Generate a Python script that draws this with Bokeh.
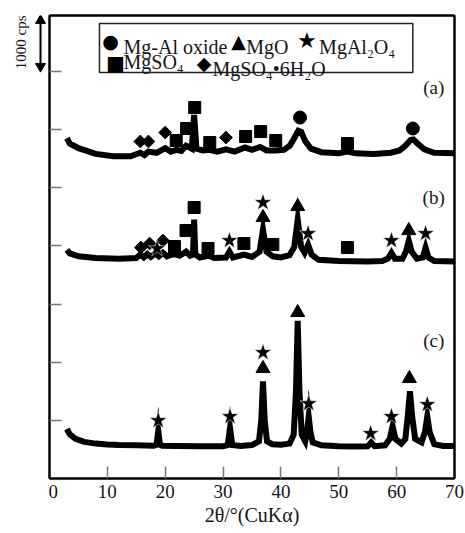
import math
from bokeh.plotting import figure
from bokeh.layouts import row
from bokeh.models import Range1d, FixedTicker, Label, LinearAxis
from bokeh.embed import file_html
from bokeh.resources import INLINE

# ---------------- data (2theta in degrees, intensity in cps, traces offset) ----------------
a_x = [3.0, 3.5, 5, 8, 11, 14, 15.7, 16.4, 17.1, 18.5, 20.0, 21.0, 21.9, 22.8, 23.6, 24.6, 25.0, 25.4,
       26.5, 27.6, 29, 30.5, 32, 33.8, 35, 36.4, 37.5, 39.0, 40.5, 41.5, 42.3, 43.0, 43.5, 44.2, 45.2,
       47, 50, 51.4, 53, 56, 59, 60.5, 61.5, 62.4, 62.9, 63.6, 64.8, 66.5, 70]
a_y = [5850, 5760, 5680, 5580, 5540, 5540, 5600, 5560, 5620, 5600, 5680, 5620, 5650, 5630, 5720, 5670, 6250, 5670,
       5640, 5650, 5620, 5660, 5620, 5690, 5650, 5700, 5640, 5640, 5650, 5720, 5850, 5980, 5960, 5800, 5670,
       5610, 5590, 5620, 5590, 5580, 5600, 5640, 5720, 5820, 5830, 5760, 5660, 5600, 5590]

b_x = [3.0, 3.5, 5, 8, 12, 15, 15.7, 16.3, 16.9, 17.5, 18.3, 18.9, 19.6, 20.3, 21.5, 22.5, 23.6, 24.3, 24.8,
       25.0, 25.2, 26, 27.4, 28.5, 30.5, 31.1, 31.7, 33.6, 35, 36.3, 36.9, 37.5, 38.6, 40, 41.5, 42.3, 42.9,
       43.5, 44.1, 44.7, 45.3, 46.5, 50, 55, 57.5, 58.5, 59.1, 59.7, 61, 61.6, 62.1, 62.6, 63.5, 64.5, 65.0,
       65.5, 66.5, 70]
b_y = [3930, 3870, 3820, 3790, 3780, 3790, 3850, 3800, 3860, 3810, 3870, 3820, 3880, 3820, 3860, 3830, 3900, 3830, 3850,
       4450, 3850, 3800, 3830, 3790, 3800, 3900, 3800, 3850, 3810, 3900, 4280, 3900, 3820, 3800, 3840, 3980, 4450,
       3980, 3880, 4020, 3850, 3760, 3740, 3730, 3740, 3780, 3880, 3780, 3780, 3900, 4090, 3900, 3780, 3800, 3970,
       3800, 3740, 3730]

c_x = [3.0, 3.5, 4.5, 6, 8, 10, 12, 15, 18, 18.5, 18.8, 19.1, 19.5, 22, 26, 30, 30.8, 31.2, 31.6, 33, 35,
       36.2, 36.6, 36.9, 37.2, 37.6, 38.5, 40, 41.5, 42.2, 42.6, 42.9, 43.2, 43.6, 44.2, 44.5, 44.8, 45.1,
       45.5, 47, 50, 53, 55, 55.6, 56.2, 58, 58.8, 59.3, 59.8, 60.8, 61.5, 61.9, 62.3, 62.7, 63.2, 64.3,
       64.9, 65.3, 65.7, 66.5, 68, 70]
c_y = [850, 760, 680, 630, 600, 585, 575, 570, 565, 580, 820, 580, 565, 560, 555, 555, 575, 870, 575, 560, 575,
       640, 1000, 1670, 1000, 640, 590, 580, 600, 750, 1500, 2710, 1500, 750, 640, 800, 1070, 800,
       620, 570, 555, 550, 555, 620, 555, 570, 680, 900, 680, 600, 680, 1050, 1500, 1050, 680, 620,
       800, 1070, 800, 590, 560, 560]

# phase markers
circle_x = [43.3, 62.8]
circle_y = [6206, 6017]
square_x = [21.9, 23.7, 25.1, 27.7, 33.9, 36.5, 39.1, 51.5,
            21.6, 23.6, 25.0, 27.4, 33.6, 38.6, 51.5]
square_y = [5811, 6017, 6378, 5776, 5879, 5965, 5811, 5759,
            3988, 4263, 4659, 3954, 4040, 4023, 3971]
diamond_x = [15.7, 17.1, 20.0, 30.5, 15.8, 17.3, 19.6]
diamond_y = [5794, 5794, 5948, 5862, 3971, 4040, 4091]
star_x = [18.6, 31.1, 36.9, 44.7, 59.1, 65.0,
          18.8, 31.2, 36.9, 44.8, 55.5, 59.1, 65.3]
star_y = [3954, 4091, 4745, 4212, 4091, 4212,
          997, 1066, 2166, 1289, 774, 1066, 1272]
tri_x = [36.9, 42.9, 62.1, 36.9, 42.9, 62.2]
tri_y = [4487, 4676, 4263, 1891, 2854, 1719]

x_ticks = [0, 10, 20, 30, 40, 50, 60, 70]
y_ticks = [1000, 2000, 3000, 4000, 5000, 6000, 7000]
trace_labels = ["(a)", "(b)", "(c)"]
trace_label_y = [6724, 4828, 2379]

legend_names = ["Mg-Al oxide", "MgO", "MgAl\u2082O\u2084", "MgSO\u2084", "MgSO\u2084\u20226H\u2082O"]
legend_symbols = ["\u25CF", "\u25B2", "\u2605", "\u25A0", "\u25C6"]

scale_bar = [7000, 7960]   # 1000 cps
scale_text = "1000 cps"

FONT = "Liberation Serif"
SYMFONT = "DejaVu Sans"
TXT = "#151515"

X0, X1 = 0, 70
Y0, Y1 = 0, 7960

# ---------------- main plot ----------------
p = figure(width=417, height=533, output_backend="svg", toolbar_location=None,
           x_range=Range1d(X0, X1), y_range=Range1d(Y0, Y1),
           min_border_left=1, min_border_right=11, min_border_top=15, min_border_bottom=55)
p.grid.visible = False
p.outline_line_color = "black"
p.outline_line_width = 2
p.background_fill_color = "white"
p.border_fill_color = "white"

for xs, ys in [(a_x, a_y), (b_x, b_y), (c_x, c_y)]:
    p.line(xs, ys, line_color="black", line_width=6, line_join="miter")

p.scatter(circle_x, circle_y, marker="circle", size=13, fill_color="black", line_color="black")
p.scatter(square_x, square_y, marker="square", size=12, fill_color="black", line_color="black")
p.scatter(diamond_x, diamond_y, marker="square", angle=math.pi / 4, size=9, fill_color="black", line_color="black")
p.scatter(star_x, star_y, marker="star", size=18, fill_color="black", line_color="white", line_width=0.5)
p.scatter(tri_x, tri_y, marker="triangle", size=14, fill_color="black", line_color="black")

xa = p.xaxis[0]
xa.ticker = FixedTicker(ticks=x_ticks)
xa.major_tick_in = 12
xa.major_tick_out = 0
xa.major_tick_line_color = "#777777"
xa.major_tick_line_width = 1.5
xa.minor_tick_line_color = None
xa.axis_line_width = 2
xa.major_label_text_font = FONT
xa.major_label_text_font_size = "19px"
xa.major_label_text_color = TXT
xa.major_label_standoff = 6
xa.axis_label = "2\u03B8/\u00B0(CuK\u03B1)"
xa.axis_label_text_font = FONT
xa.axis_label_text_font_size = "20px"
xa.axis_label_text_font_style = "normal"
xa.axis_label_text_color = TXT
xa.axis_label_standoff = 3

ya = p.yaxis[0]
ya.ticker = FixedTicker(ticks=y_ticks)
ya.major_tick_in = 12
ya.major_tick_out = 0
ya.major_tick_line_color = "#777777"
ya.major_tick_line_width = 1.5
ya.minor_tick_line_color = None
ya.axis_line_width = 2
ya.major_label_text_color = None
ya.major_label_standoff = 0

# top and right frame edges: axes with invisible ticks and no labels
for side, ticks in [("above", x_ticks), ("right", y_ticks)]:
    ax = LinearAxis(ticker=FixedTicker(ticks=ticks), major_tick_in=0, major_tick_out=2,
                    major_tick_line_color=None, minor_tick_line_color=None,
                    major_label_text_color=None, major_label_standoff=0,
                    axis_line_color="black", axis_line_width=2)
    p.add_layout(ax, side)

for t, yy in zip(trace_labels, trace_label_y):
    p.add_layout(Label(x=66.4, y=yy, text=t, text_font=FONT, text_font_size="19px",
                       text_align="center", text_baseline="middle", text_color=TXT))

# legend: the "MgSO4" entry's label carries the box border; the box hangs from its top-left
box_l, box_t = 8.64, 7822
sym_pos = [(10.54, 7530), (32.66, 7530), (44.5, 7530), (11.41, 7150), (26.70, 7150)]
sym_size = ["19px", "19px", "22px", "20px", "19px"]
name_pos = [(12.79, 7427), (34.0, 7427), (46.6, 7427), None, (28.17, 7048)]
box_kw = dict(border_line_color="#222222", border_line_width=1.5)
try:
    boxed = Label(x=box_l, y=box_t, text=legend_names[3], text_font=FONT,
                  text_font_size="20px", text_align="left", text_baseline="top",
                  text_color=TXT, padding=dict(left=24, right=229, top=27, bottom=0), **box_kw)
except Exception:
    boxed = Label(x=box_l, y=box_t, text=legend_names[3], text_font=FONT,
                  text_font_size="20px", text_align="left", text_baseline="top",
                  text_color=TXT, padding=(27, 229, 0, 24), **box_kw)
p.add_layout(boxed)
for n, pos in zip(legend_names, name_pos):
    if pos is None:
        continue
    p.add_layout(Label(x=pos[0], y=pos[1], text=n, text_font=FONT, text_font_size="20px",
                       text_align="left", text_baseline="alphabetic", text_color=TXT))
for sy_text, (sx, sy), ss in zip(legend_symbols, sym_pos, sym_size):
    p.add_layout(Label(x=sx, y=sy, text=sy_text, text_font=SYMFONT, text_font_size=ss,
                       text_align="center", text_baseline="middle", text_color="black"))

# ---------------- scale bar panel at left ----------------
s = figure(width=48, height=533, output_backend="svg", toolbar_location=None,
           x_range=Range1d(0, 48), y_range=p.y_range,
           x_axis_type=None, y_axis_type=None,
           min_border_left=0, min_border_right=0, min_border_top=15, min_border_bottom=55)
s.grid.visible = False
s.outline_line_color = None
s.background_fill_color = "white"
s.border_fill_color = "white"
head = 86
s.segment(x0=[40], y0=[scale_bar[0] + head], x1=[40], y1=[scale_bar[1] - head],
          line_color="black", line_width=2)
s.scatter([40], [scale_bar[1] - head], marker="triangle", size=10, fill_color="black", line_color="black")
s.scatter([40], [scale_bar[0] + head], marker="inverted_triangle", size=10, fill_color="black", line_color="black")
s.add_layout(Label(x=20, y=(scale_bar[0] + scale_bar[1]) / 2 + 20, text=scale_text, angle=math.pi / 2,
                   text_font=FONT, text_font_size="15px", text_align="center",
                   text_baseline="middle", text_color=TXT))

layout = row(s, p)
open("out.html", "w").write(file_html(layout, INLINE))
